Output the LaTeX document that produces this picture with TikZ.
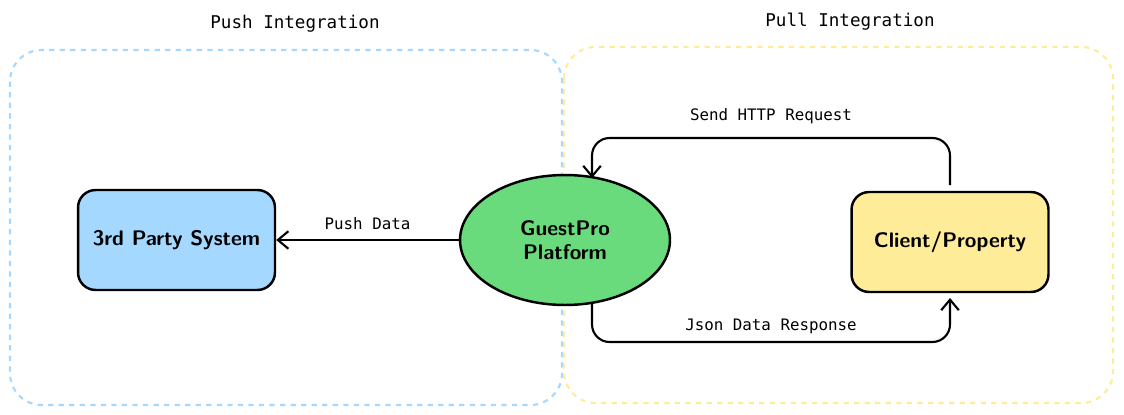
\documentclass[tikz,border=0pt]{standalone}
\usepackage{fontspec}
\setmainfont{DejaVu Sans Mono}
\usetikzlibrary{positioning,shapes.geometric,arrows.meta}
\definecolor{pushblue}{HTML}{A5D8FF}
\definecolor{pullyellow}{HTML}{FFEC99}
\definecolor{gpgreen}{HTML}{69DB7C}
\begin{document}
\begin{tikzpicture}[x=0.02cm,y=-0.02cm,
    zone/.style={draw,dashed,line width=1.2pt,rounded corners=18pt},
    box/.style={draw,line width=1.4pt,rounded corners=10pt,minimum width=3.94cm,minimum height=2cm,font=\sffamily\bfseries\large},
    flow/.style={line width=1.2pt,-{Straight Barb[length=6pt,width=10pt]},rounded corners=10pt},
    lbl/.style={font=\small}]
  \useasboundingbox (0,0) rectangle (1124,415);
  % zones
  \draw[zone,pushblue] (10,50) rectangle (562,405);
  \draw[zone,pullyellow] (564,47) rectangle (1113,403);
  \node (pushtitle) at (295,24) {Push Integration};
  \node (pulltitle) at (850,22) {Pull Integration};
  % nodes
  \node[box,fill=pushblue] (party) at (176.5,240) {3rd Party System};
  \node[ellipse,draw,line width=1.4pt,fill=gpgreen,minimum width=4.2cm,minimum height=2.6cm,
        align=center,font=\sffamily\bfseries\large] (guestpro) at (565,240) {GuestPro\\Platform};
  \node[box,fill=pullyellow] (client) at (950,242) {Client/Property};
  \coordinate (reqout) at (950,185);
  \coordinate (reqin) at (592,178);
  \coordinate (respout) at (592,302);
  \coordinate (respin) at (950,298);
  % connectors
  \draw[flow] (guestpro.west) -- (party.east) node[lbl,midway,above=2pt] {Push Data};
  \draw[flow] (reqout) -- (950,138) -- (592,138) node[lbl,midway,above=4pt] {Send HTTP Request} -- (reqin);
  \draw[flow] (respout) -- (592,342) -- (950,342) node[lbl,midway,above=1pt] {Json Data Response} -- (respin);
\end{tikzpicture}
\end{document}
